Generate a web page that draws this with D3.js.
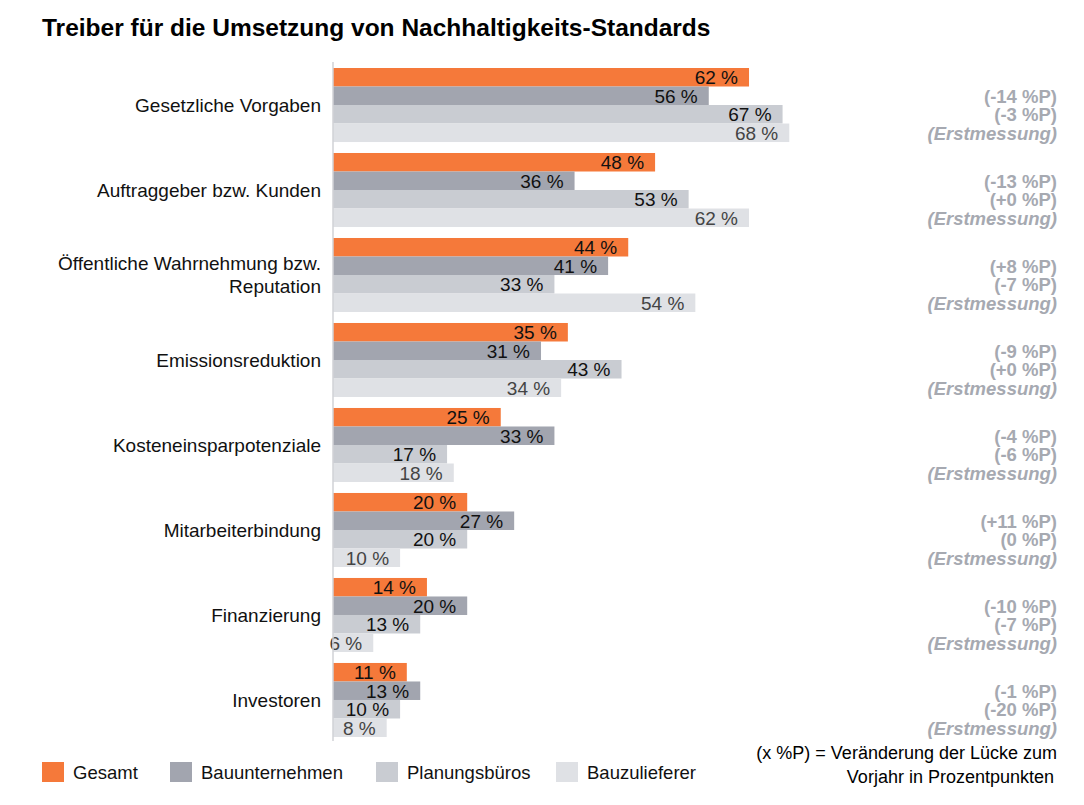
<!DOCTYPE html>
<html><head><meta charset="utf-8">
<script src="https://cdn.jsdelivr.net/npm/d3@7"></script>
<style>body{margin:0;background:#fff;font-family:"Liberation Sans",Arial,sans-serif}</style>
</head><body><svg id="c" width="1084" height="805"></svg>
<script>
var categories = [["Gesetzliche Vorgaben"], ["Auftraggeber bzw. Kunden"], ["Öffentliche Wahrnehmung bzw.", "Reputation"], ["Emissionsreduktion"], ["Kosteneinsparpotenziale"], ["Mitarbeiterbindung"], ["Finanzierung"], ["Investoren"]];
var seriesNames = ["Gesamt", "Bauunternehmen", "Planungsbüros", "Bauzulieferer"];
var gesamt = [62, 48, 44, 35, 25, 20, 14, 11];
var bauunternehmen = [56, 36, 41, 31, 33, 27, 20, 13];
var planungsbueros = [67, 53, 33, 43, 17, 20, 13, 10];
var bauzulieferer = [68, 62, 54, 34, 18, 10, 6, 8];
var changeBau = ["(-14 %P)", "(-13 %P)", "(+8 %P)", "(-9 %P)", "(-4 %P)", "(+11 %P)", "(-10 %P)", "(-1 %P)"];
var changePlan = ["(-3 %P)", "(+0 %P)", "(-7 %P)", "(+0 %P)", "(-6 %P)", "(0 %P)", "(-7 %P)", "(-20 %P)"];
var colors = ["#f5793a", "#a2a5af", "#c9ccd2", "#dfe1e5"];
var labelColors = ["#111", "#111", "#111", "#444"];

var svg = d3.select("#c");
var series = [gesamt, bauunternehmen, planungsbueros, bauzulieferer];
var x = d3.scaleLinear().domain([0, 100]).range([333, 333 + 671]);
var y = d3.scaleBand().domain(d3.range(categories.length)).range([68, 737]).paddingInner(0.129).paddingOuter(0);
var yi = d3.scaleBand().domain(d3.range(4)).range([0, y.bandwidth()]);

svg.append("text").attr("x", 42).attr("y", 36).attr("font-size", 24.5).attr("font-weight", "bold").text("Treiber für die Umsetzung von Nachhaltigkeits-Standards");

var g = svg.selectAll("g.grp").data(categories).join("g").attr("transform", (d, i) => "translate(0," + y(i) + ")");
series.forEach(function (s, k) {
  g.append("rect").attr("x", x(0)).attr("y", yi(k)).attr("height", yi.bandwidth())
    .attr("width", (d, i) => x(s[i]) - x(0)).attr("fill", colors[k]);
  g.append("text").attr("x", (d, i) => x(s[i]) - 11).attr("y", yi(k) + yi.bandwidth() / 2 + 7)
    .attr("text-anchor", "end").attr("font-size", 19).attr("fill", labelColors[k]).text((d, i) => s[i] + " %");
});
g.each(function (d, i) {
  var t = d3.select(this).append("text").attr("x", 321).attr("text-anchor", "end").attr("font-size", 19).attr("fill", "#111");
  var cy = y.bandwidth() / 2 + 7;
  d.forEach(function (line, j) {
    t.append("tspan").attr("x", 321).attr("y", cy + (j - (d.length - 1) / 2) * 23).text(line);
  });
  var a = d3.select(this).append("g").attr("font-size", 18.5).attr("font-weight", "bold").attr("fill", "#a6a9b1").attr("text-anchor", "end");
  a.append("text").attr("x", 1057).attr("y", yi(1) + yi.bandwidth() / 2 + 7).text(changeBau[i]);
  a.append("text").attr("x", 1057).attr("y", yi(2) + yi.bandwidth() / 2 + 7).text(changePlan[i]);
  a.append("text").attr("x", 1057).attr("y", yi(3) + yi.bandwidth() / 2 + 7).attr("font-style", "italic").text("(Erstmessung)");
});
svg.append("line").attr("x1", 333).attr("x2", 333).attr("y1", 62).attr("y2", 741).attr("stroke", "#d0d2d6").attr("stroke-width", 1.5);

var legX = [42, 170, 376, 556];
var lg = svg.selectAll("g.leg").data(seriesNames).join("g").attr("transform", (d, i) => "translate(" + legX[i] + ",762)");
lg.append("rect").attr("width", 22).attr("height", 20).attr("fill", (d, i) => colors[i]);
lg.append("text").attr("x", 31).attr("y", 17).attr("font-size", 18.5).attr("fill", "#111").text(d => d);

svg.append("text").attr("x", 1057).attr("y", 759).attr("text-anchor", "end").attr("font-size", 18).text("(x %P) = Veränderung der Lücke zum");
svg.append("text").attr("x", 1054).attr("y", 783).attr("text-anchor", "end").attr("font-size", 18).text("Vorjahr in Prozentpunkten");
</script></body></html>
